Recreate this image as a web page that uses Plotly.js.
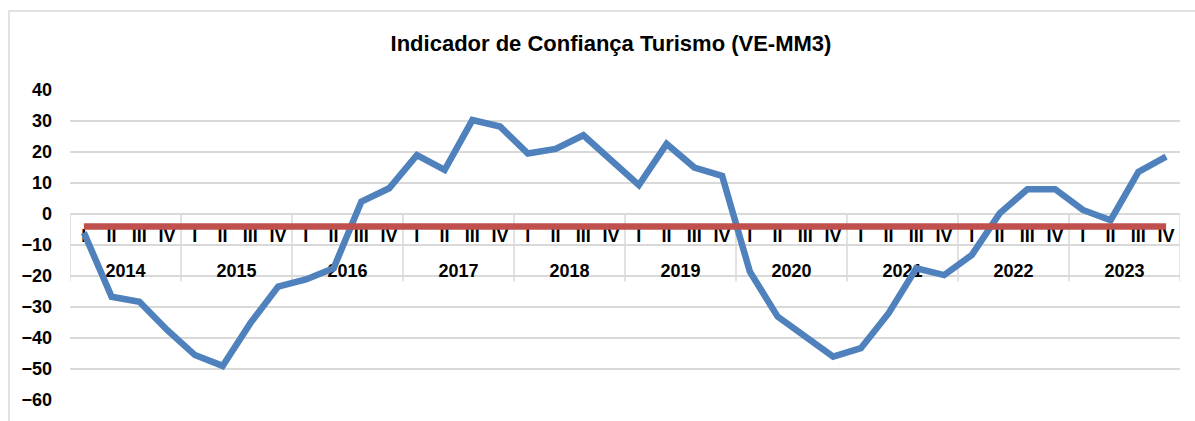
<!DOCTYPE html>
<html>
<head>
<meta charset="utf-8">
<script src="https://cdn.plot.ly/plotly-3.0.1.min.js"></script>
<style>html,body{margin:0;padding:0;background:#fff;}#chart{width:1195px;height:421px;}</style>
</head>
<body>
<div id="chart"></div>
<script>
const years = ["2014","2015","2016","2017","2018","2019","2020","2021","2022","2023"];
const quarters = ["I","II","III","IV"];
const confidence = [
  -6, -26.7, -28.3, -37.4,
  -45.5, -49, -35.2, -23.4,
  -21.1, -17.5, 4, 8.3,
  19, 14.2, 30.3, 28.2,
  19.5, 21, 25.4, 17.2,
  9.3, 22.6, 15, 12.3,
  -18.6, -33.1, -39.5, -46,
  -43.3, -32, -17.5, -19.7,
  -13.2, 0.2, 8, 8,
  1.3, -2, 13.6, 18.5
];
const reference = [
  -4, -4, -4, -4, -4, -4, -4, -4, -4, -4,
  -4, -4, -4, -4, -4, -4, -4, -4, -4, -4,
  -4, -4, -4, -4, -4, -4, -4, -4, -4, -4,
  -4, -4, -4, -4, -4, -4, -4, -4, -4, -4
];
const title = "Indicador de Confiança Turismo (VE-MM3)";

const n = confidence.length;
const idx = confidence.map((_, i) => i);
const qLabels = idx.map(i => quarters[i % 4]);
const yearIdx = years.map((_, j) => j * 4 + 1.5);

const font = {family: "Liberation Sans, Arial, sans-serif", color: "#000"};
const grid = "#D9D9D9";

const traces = [
  {x: idx, y: idx.map(() => -7.5), mode: "text", text: qLabels,
   textfont: Object.assign({size: 18, weight: "bold"}, font),
   textposition: "middle center", hoverinfo: "skip", showlegend: false, cliponaxis: false},
  {x: yearIdx, y: years.map(() => -19), mode: "text", text: years,
   textfont: Object.assign({size: 18, weight: "bold"}, font),
   textposition: "middle center", hoverinfo: "skip", showlegend: false, cliponaxis: false},
  {x: idx, y: confidence, mode: "lines", line: {color: "#4F81BD", width: 6.5},
   showlegend: false, cliponaxis: false},
  {x: idx, y: reference, mode: "lines", line: {color: "#C0504D", width: 6.5},
   showlegend: false, cliponaxis: false}
];

const shapes = [];
for (let j = 0; j <= years.length; j++) {
  shapes.push({type: "line", xref: "x", yref: "y", x0: j * 4 - 0.5, x1: j * 4 - 0.5,
    y0: 0, y1: -21.8, line: {color: grid, width: 1.5}, layer: "below"});
}
shapes.push({type: "rect", xref: "paper", yref: "paper",
  x0: (9 - 70) / 1110, x1: (1200 - 70) / 1110, y0: (400 - 430) / 310, y1: (400 - 11) / 310,
  line: {color: grid, width: 1.5}, fillcolor: "rgba(0,0,0,0)", layer: "below"});

const layout = {
  width: 1195, height: 421,
  margin: {l: 70, r: 15, t: 90, b: 21, pad: 0},
  paper_bgcolor: "#fff", plot_bgcolor: "#fff",
  showlegend: false,
  title: {text: "<b>" + title + "</b>", font: Object.assign({size: 22}, font),
    x: (611 - 70) / 1110, xref: "paper", xanchor: "center",
    y: (421 - 43) / 421, yref: "container", yanchor: "middle"},
  xaxis: {range: [-0.5, n - 0.5], showgrid: false, zeroline: false, showticklabels: false,
    showline: false, ticks: "", fixedrange: true},
  yaxis: {range: [-60, 40], dtick: 10, tick0: 0, showgrid: true, gridcolor: grid, gridwidth: 1.5,
    zeroline: true, zerolinecolor: grid, zerolinewidth: 1.5, showline: false, ticks: "",
    ticklabelstandoff: 17,
    tickfont: Object.assign({size: 18, weight: "bold"}, font), fixedrange: true},
  shapes: shapes
};

Plotly.newPlot("chart", traces, layout, {displayModeBar: false, staticPlot: true});
</script>
</body>
</html>
